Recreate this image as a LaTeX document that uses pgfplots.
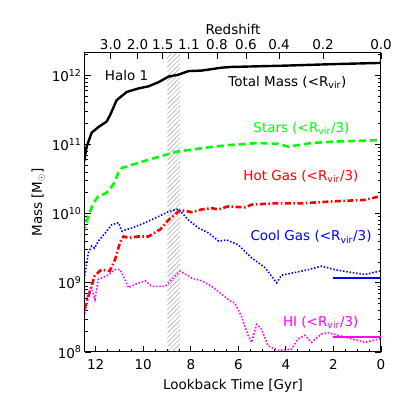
\documentclass[border=0pt]{standalone}
\usepackage{pgfplots}
\pgfplotsset{compat=1.18}
\usetikzlibrary{patterns.meta}
\usepackage{fontspec}
\setmainfont{DejaVu Sans}

\definecolor{cgreen}{rgb}{0,1,0}
\definecolor{cred}{rgb}{1,0,0}
\definecolor{cblue}{rgb}{0,0,1}
\definecolor{cmag}{rgb}{1,0,1}

\newcommand{\lbl}{\fontsize{13.5}{16}\selectfont}

\begin{document}
\begin{tikzpicture}
\useasboundingbox (-85pt,-55pt) rectangle (322pt,352pt);
% top axis: redshift
\begin{axis}[
    at={(0,0)}, anchor=south west,
    scale only axis, width=296pt, height=299pt,
    x dir=reverse, xmin=0, xmax=12.45,
    ymin=0, ymax=1,
    axis x line*=top, axis y line=none,
    xtick={11.37,10.24,9.18,8.08,6.9,5.68,4.29,2.44,0},
    xticklabels={3.0,2.0,1.5,1.1,0.8,0.6,0.4,0.2,0.0},
    tick align=inside, major tick length=6pt,
    every tick/.style={black, line width=0.8pt},
    axis line style={line width=1pt},
    xlabel={Redshift},
    xlabel style={yshift=-2pt},
    label style={font=\lbl}, tick label style={font=\lbl},
]
\end{axis}
% main axis
\begin{axis}[
    at={(0,0)}, anchor=south west,
    scale only axis, width=296pt, height=299pt,
    x dir=reverse, xmin=0, xmax=12.45,
    ymode=log, ymin=1e8, ymax=2.1e12,
    xtick={0,2,...,12}, minor x tick num=3,
    xtick pos=left,
    ytick={1e8,1e9,1e10,1e11,1e12},
    yticklabels={10\textsuperscript{8},10\textsuperscript{9},10\textsuperscript{10},10\textsuperscript{11},10\textsuperscript{12}},
    minor ytick={2e8,3e8,4e8,5e8,6e8,7e8,8e8,9e8,
                 2e9,3e9,4e9,5e9,6e9,7e9,8e9,9e9,
                 2e10,3e10,4e10,5e10,6e10,7e10,8e10,9e10,
                 2e11,3e11,4e11,5e11,6e11,7e11,8e11,9e11,2e12},
    tick align=inside, major tick length=6pt, minor tick length=3pt,
    every tick/.style={black, line width=0.8pt},
    axis line style={line width=1pt},
    xlabel={Lookback Time [Gyr]},
    ylabel={Mass [M$_\odot$]},
    xticklabel style={yshift=-4pt},
    xlabel style={yshift=-3pt},
    label style={font=\lbl}, tick label style={font=\lbl},
    /pgf/number format/assume math mode=true,
]
% hatched band
\addplot[draw=none, pattern={Lines[angle=45,distance=3.3pt,line width=0.3pt]}, pattern color=gray]
  coordinates {(8.46,1e8) (8.46,2.1e12) (8.98,2.1e12) (8.98,1e8)} -- cycle;

% total mass
\addplot[black, line width=2.4pt] coordinates {
 (12.5,5.4e10) (12.38,9.3e10) (12.17,1.48e11) (11.89,1.78e11) (11.54,2.14e11)
 (11.40,2.63e11) (11.12,4.37e11) (10.69,5.75e11) (10.2,6.46e11) (9.78,6.92e11)
 (9.36,7.94e11) (8.94,9.55e11) (8.52,1.02e12) (8.1,1.15e12) (7.54,1.17e12)
 (6.69,1.29e12) (6.27,1.32e12) (4,1.38e12) (2,1.45e12) (0,1.51e12)};

% stars
\addplot[cgreen, line width=2.6pt, dash pattern=on 7pt off 4pt] coordinates {
 (12.52,5.25e9) (12.31,9.1e9) (12.1,1.41e10) (11.89,1.78e10) (11.54,2.0e10)
 (11.26,2.63e10) (11.04,3.9e10) (10.9,4.57e10) (10.69,4.79e10) (10.06,5.62e10)
 (9.36,6.6e10) (8.87,7.4e10) (8.52,7.94e10) (8.1,8.3e10) (7.25,9.1e10)
 (6.41,9.8e10) (5.17,1.05e11) (4.32,1.02e11) (3.9,9.3e10) (2.92,1.05e11)
 (1.94,1.1e11) (0.18,1.15e11) (0,1.15e11)};

% hot gas
\addplot[cred, line width=2.6pt, dash pattern=on 6pt off 2.5pt on 1.5pt off 2.5pt] coordinates {
 (12.46,4.2e8) (12.32,6.2e8) (12.18,8.9e8) (12.04,1.26e9) (11.83,1.48e9)
 (11.75,1.55e9) (11.41,1.48e9) (11.18,2.19e9) (10.98,3.8e9) (10.83,4.68e9)
 (10.62,4.47e9) (10.2,4.68e9) (9.78,4.68e9) (9.29,5.9e9) (8.94,8.1e9)
 (8.52,1.07e10) (8.38,1.12e10) (7.96,1.05e10) (7.54,1.15e10) (7.12,1.2e10)
 (6.83,1.15e10) (6.45,1.27e10) (5.73,1.23e10) (5.44,1.35e10) (4.46,1.41e10)
 (3.34,1.41e10) (1.94,1.51e10) (0.67,1.58e10) (0.05,1.78e10)};

% cool gas
\addplot[cblue, line width=1.6pt, dash pattern=on 1.5pt off 1.8pt] coordinates {
 (12.46,1.26e9) (12.31,2.7e9) (12.17,3.4e9) (12.05,3.16e9) (11.89,4.0e9)
 (11.6,5.25e9) (11.33,6.9e9) (11.04,7.4e9) (10.9,5.6e9) (10.48,6.2e9)
 (9.92,7.4e9) (9.36,9.1e9) (8.94,1.07e10) (8.52,1.17e10) (8.1,8.1e9)
 (7.68,6.2e9) (7.25,5.25e9) (6.83,4.0e9) (6.5,4.17e9) (6.01,3.55e9)
 (5.44,2.29e9) (4.88,1.66e9) (4.39,1.0e9) (4.18,1.29e9) (3.62,1.41e9)
 (3.06,1.55e9) (2.5,1.74e9) (1.94,1.55e9) (1.23,1.41e9) (0.67,1.32e9)
 (0.05,1.48e9)};
\addplot[cblue, line width=2pt] coordinates {(2,1.17e9) (0,1.17e9)};

% HI
\addplot[cmag, line width=1.6pt, dash pattern=on 1.5pt off 1.8pt] coordinates {
 (12.46,3.55e8) (12.31,7.2e8) (12.17,8.5e8) (12.03,5.75e8) (11.89,1.12e9)
 (11.54,1.26e9) (11.18,1.55e9) (10.98,1.55e9) (10.77,1.12e9) (10.62,8.5e8)
 (10.34,9.5e8) (9.92,1.07e9) (9.64,8.9e8) (9.08,8.9e8) (8.8,1.12e9)
 (8.45,1.48e9) (7.96,1.17e9) (7.54,1.07e9) (7.12,8.9e8) (6.69,6.8e8)
 (6.35,5.5e8) (6.15,5.1e8) (5.87,3.3e8) (5.59,1.74e8) (5.44,1.38e8)
 (5.23,2.51e8) (5.02,2.14e8) (4.75,1.23e8) (4.32,1.05e8) (3.76,1.1e8)
 (3.48,1.55e8) (3.2,1.74e8) (2.92,1.38e8) (2.5,1.82e8) (2.22,1.9e8)
 (1.8,1.74e8) (1.23,1.55e8) (0.67,1.38e8) (0.05,1.55e8)};
\addplot[cmag, line width=2pt] coordinates {(2,1.65e8) (0,1.65e8)};

% labels
\node[font=\lbl] at (axis cs:10.7,9.8e11) {Halo 1};
\node[font=\lbl, anchor=east] at (axis cs:1.31,8.0e11) {Total Mass (<R\textsubscript{vir})};
\node[font=\lbl, anchor=east, text=cgreen] at (axis cs:1.18,1.73e11) {Stars (<R\textsubscript{vir}/3)};
\node[font=\lbl, anchor=east, text=cred] at (axis cs:0.8,3.5e10) {Hot Gas (<R\textsubscript{vir}/3)};
\node[font=\lbl, anchor=east, text=cblue] at (axis cs:0.25,4.6e9) {Cool Gas (<R\textsubscript{vir}/3)};
\node[font=\lbl, anchor=east, text=cmag] at (axis cs:0.8,2.7e8) {HI (<R\textsubscript{vir}/3)};
\end{axis}
\end{tikzpicture}
\end{document}
